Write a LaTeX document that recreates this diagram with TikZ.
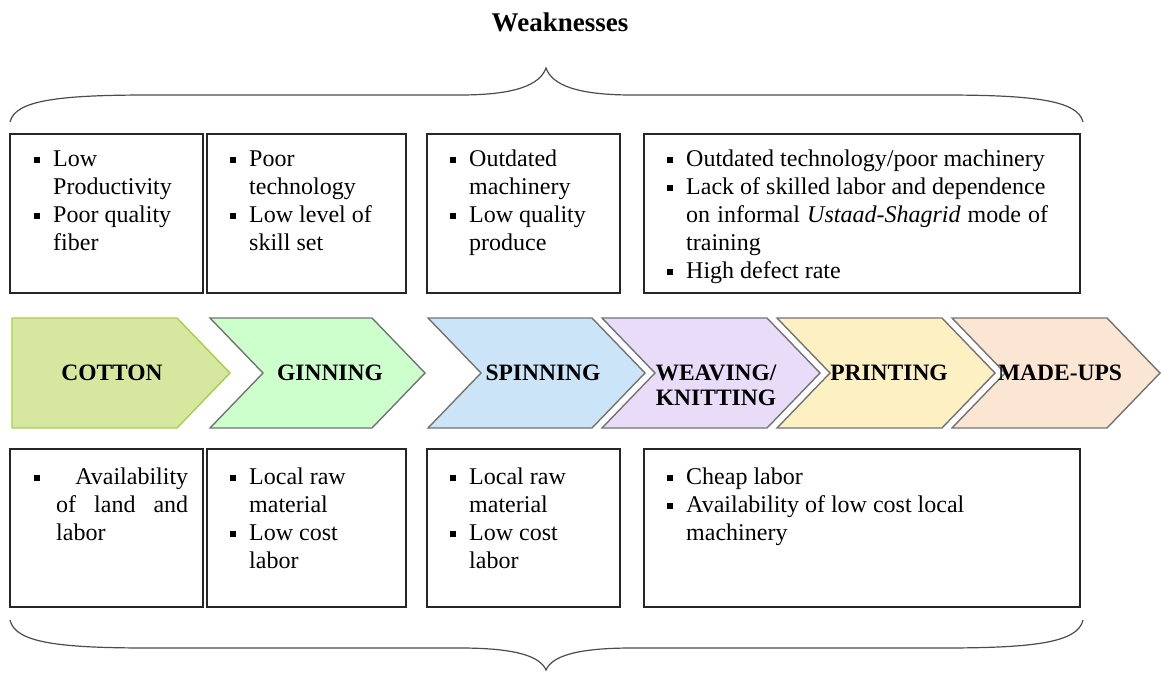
\documentclass[tikz,border=0pt]{standalone}
\usepackage{fontspec}
\setmainfont{Liberation Serif}
\newcommand\bulletmark{\makebox[19pt][l]{\rule[3.5pt]{5.5pt}{5.5pt}}}
\newcommand\bulletgap{\hspace*{19pt}}
\definecolor{cottonfill}{HTML}{D6E8A0}
\definecolor{cottonline}{HTML}{A6D04A}
\definecolor{ginfill}{HTML}{CCFFCC}
\definecolor{spinfill}{HTML}{CCE4F7}
\definecolor{weavefill}{HTML}{E8DCF8}
\definecolor{printfill}{HTML}{FDF0C2}
\definecolor{madefill}{HTML}{FBE6D3}
\begin{document}
\begin{tikzpicture}[x=1pt,y=-1pt,
  infobox/.style={draw=black!85,line width=1.5pt},
  chev/.style={draw=black!55,line width=1.4pt,line join=miter},
  chevlabel/.style={font=\fontsize{23.5}{25}\selectfont\bfseries,align=center,inner sep=0},
  brace/.style={draw=black!70,line width=1.2pt},
  bullets/.style={anchor=base west,inner sep=0,font=\fontsize{24}{28}\selectfont}]
\useasboundingbox (0,0) rectangle (1161,672);

% title
\node[font=\fontsize{27}{30}\selectfont\bfseries,inner sep=0] (title) at (560,22) {Weaknesses};

% upper brace
\draw[brace] (10,122) .. controls (15,100) and (60,95) .. (150,95) -- (460,95)
  .. controls (515,95) and (540,85) .. (546,68)
  .. controls (552,85) and (577,95) .. (632,95) -- (942,95)
  .. controls (1032,95) and (1078,100) .. (1083,122);

% lower brace
\draw[brace] (10,620) .. controls (15,643) and (60,648) .. (150,648) -- (460,648)
  .. controls (515,648) and (540,656) .. (546,670)
  .. controls (552,656) and (577,648) .. (632,648) -- (942,648)
  .. controls (1032,648) and (1078,643) .. (1083,620);

% weakness boxes
\draw[infobox] (10,134) rectangle (203,293);
\draw[infobox] (207,134) rectangle (406,293);
\draw[infobox] (427,134) rectangle (620,293);
\draw[infobox] (644,134) rectangle (1080,293);

\node[bullets] (w1) at (34,166) {\begin{tabular}[t]{@{}l@{}}
  \bulletmark Low\\ \bulletgap Productivity\\ \bulletmark Poor quality\\ \bulletgap fiber\end{tabular}};
\node[bullets] (w2) at (230,166) {\begin{tabular}[t]{@{}l@{}}
  \bulletmark Poor\\ \bulletgap technology\\ \bulletmark Low level of\\ \bulletgap skill set\end{tabular}};
\node[bullets] (w3) at (450,166) {\begin{tabular}[t]{@{}l@{}}
  \bulletmark Outdated\\ \bulletgap machinery\\ \bulletmark Low quality\\ \bulletgap produce\end{tabular}};
\node[bullets] (w4) at (667,166) {\begin{tabular}[t]{@{}l@{}}
  \bulletmark Outdated technology/poor machinery\\
  \bulletmark Lack of skilled labor and dependence\\
  \bulletgap\makebox[362pt][s]{on informal \textit{Ustaad-Shagrid} mode of}\\
  \bulletgap training\\
  \bulletmark High defect rate\end{tabular}};

% value chain chevrons
\draw[chev,draw=cottonline,fill=cottonfill] (12,318) -- (177,318) -- (230,373) -- (177,428) -- (12,428) -- cycle;
\draw[chev,fill=ginfill] (210,318) -- (372,318) -- (425,373) -- (372,428) -- (210,428) -- (263,373) -- cycle;
\draw[chev,fill=spinfill] (428,318) -- (592,318) -- (645,373) -- (592,428) -- (428,428) -- (481,373) -- cycle;
\draw[chev,fill=weavefill] (602,318) -- (767,318) -- (820,373) -- (767,428) -- (602,428) -- (655,373) -- cycle;
\draw[chev,fill=printfill] (777,318) -- (942,318) -- (995,373) -- (942,428) -- (777,428) -- (830,373) -- cycle;
\draw[chev,fill=madefill] (952,318) -- (1107,318) -- (1160,373) -- (1107,428) -- (952,428) -- (1005,373) -- cycle;

\node[chevlabel] (cotton) at (112,373) {COTTON};
\node[chevlabel] (ginning) at (330,373) {GINNING};
\node[chevlabel] (spinning) at (543,373) {SPINNING};
\node[chevlabel] (weaving) at (716,385) {WEAVING/\\KNITTING};
\node[chevlabel] (printing) at (889,373) {PRINTING};
\node[chevlabel] (madeups) at (1060,373) {MADE-UPS};

% strength boxes
\draw[infobox] (10,449) rectangle (203,607);
\draw[infobox] (207,449) rectangle (406,607);
\draw[infobox] (427,449) rectangle (620,607);
\draw[infobox] (644,449) rectangle (1080,607);

\node[bullets] (s1) at (34,484) {\begin{tabular}[t]{@{}l@{}}
  \hbox to 154pt{\rule[3.5pt]{5.5pt}{5.5pt}\hfill Availability}\\
  \hspace*{22pt}\hbox to 132pt{of\hfill land\hfill and}\\
  \hspace*{22pt}labor\end{tabular}};
\node[bullets] (s2) at (230,484) {\begin{tabular}[t]{@{}l@{}}
  \bulletmark Local raw\\ \bulletgap material\\ \bulletmark Low cost\\ \bulletgap labor\end{tabular}};
\node[bullets] (s3) at (450,484) {\begin{tabular}[t]{@{}l@{}}
  \bulletmark Local raw\\ \bulletgap material\\ \bulletmark Low cost\\ \bulletgap labor\end{tabular}};
\node[bullets] (s4) at (667,484) {\begin{tabular}[t]{@{}l@{}}
  \bulletmark Cheap labor\\
  \bulletmark Availability of low cost local\\
  \bulletgap machinery\end{tabular}};
\end{tikzpicture}
\end{document}
